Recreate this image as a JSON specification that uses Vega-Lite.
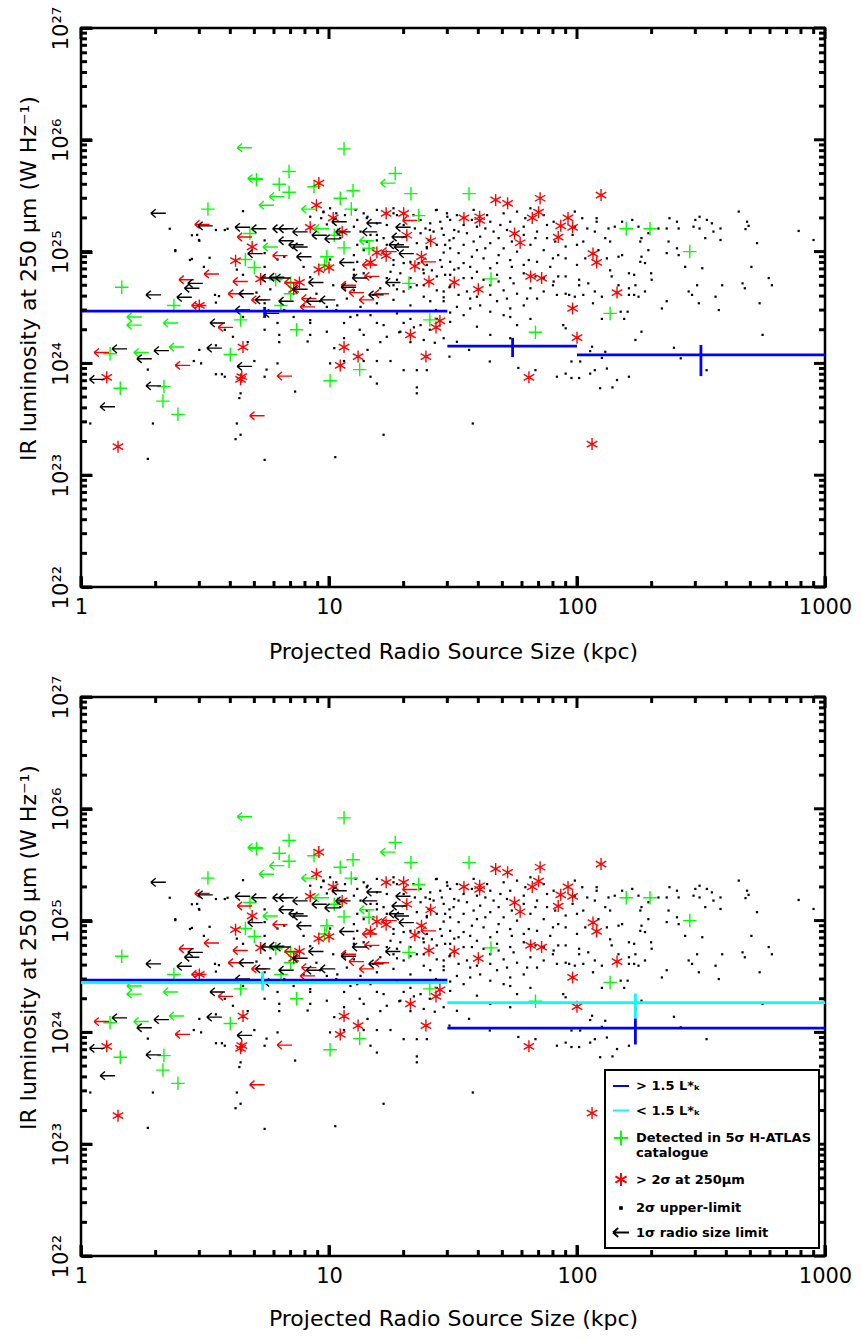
{
  "$schema": "https://vega.github.io/schema/vega-lite/v6.json",
  "background": "white",
  "padding": {"top": 4, "left": 15, "right": 30, "bottom": 2},
  "config": {
    "view": {"stroke": "black", "strokeWidth": 2.5},
    "font": "DejaVu Sans",
    "axis": {
      "grid": false, "domain": false, "ticks": true,
      "labelFont": "DejaVu Sans", "titleFont": "DejaVu Sans",
      "labelColor": "black", "titleColor": "black",
      "tickColor": "black", "tickWidth": 3,
      "labelFontSize": 21, "titleFontSize": 22, "titleFontWeight": "normal",
      "labelFlush": false, "labelOverlap": false
    },
    "legend": {"strokeWidth": 2}
  },
  "datasets": {
    "xmaj": [{"v":1},{"v":10},{"v":100},{"v":1000}],
    "xmin": [{"v":2},{"v":3},{"v":4},{"v":5},{"v":6},{"v":7},{"v":8},{"v":9},{"v":20},{"v":30},{"v":40},{"v":50},{"v":60},{"v":70},{"v":80},{"v":90},{"v":200},{"v":300},{"v":400},{"v":500},{"v":600},{"v":700},{"v":800},{"v":900}],
    "ymaj": [{"v":1e22},{"v":1e23},{"v":1e24},{"v":1e25},{"v":1e26},{"v":1e27}],
    "ymin": [{"v":2e22},{"v":3e22},{"v":4e22},{"v":5e22},{"v":6e22},{"v":7e22},{"v":8e22},{"v":9e22},{"v":2e23},{"v":3e23},{"v":4e23},{"v":5e23},{"v":6e23},{"v":7e23},{"v":8e23},{"v":9e23},{"v":2e24},{"v":3e24},{"v":4e24},{"v":5e24},{"v":6e24},{"v":7e24},{"v":8e24},{"v":9e24},{"v":2e25},{"v":3e25},{"v":4e25},{"v":5e25},{"v":6e25},{"v":7e25},{"v":8e25},{"v":9e25},{"v":2e26},{"v":3e26},{"v":4e26},{"v":5e26},{"v":6e26},{"v":7e26},{"v":8e26},{"v":9e26}],
    "dots": [
      {"s":9.5,"L":2.28e25},{"s":10.1,"L":2.44e25},{"s":12.8,"L":2.36e25},{"s":15.6,"L":2.36e25},{"s":18.2,"L":2.44e25},{"s":27.2,"L":2.36e25},{"s":29.9,"L":2.2e25},{"s":32.8,"L":2.12e25},{"s":38.3,"L":2.36e25},{"s":43.4,"L":2.12e25},{"s":50.6,"L":2.2e25},{"s":57.3,"L":2.28e25},{"s":64.9,"L":2.44e25},{"s":73.4,"L":2.12e25},{"s":80.5,"L":1.85e25},
      {"s":9.3,"L":1.99e25},{"s":13.0,"L":1.92e25},{"s":14.2,"L":1.99e25},{"s":15.6,"L":1.79e25},{"s":17.1,"L":1.73e25},{"s":23.4,"L":1.92e25},{"s":25.6,"L":1.79e25},{"s":28.1,"L":1.85e25},{"s":30.8,"L":1.92e25},{"s":34.9,"L":1.73e25},{"s":39.5,"L":1.67e25},{"s":44.7,"L":1.85e25},{"s":49.1,"L":1.73e25},{"s":53.8,"L":1.85e25},{"s":61.0,"L":1.67e25},{"s":75.7,"L":1.73e25},{"s":12.6,"L":1.67e25},{"s":9.8,"L":1.75e25},
      {"s":13.4,"L":1.51e25},{"s":14.7,"L":1.41e25},{"s":16.6,"L":1.32e25},{"s":23.4,"L":1.46e25},{"s":26.4,"L":1.51e25},{"s":29.0,"L":1.41e25},{"s":31.8,"L":1.32e25},{"s":36.0,"L":1.46e25},{"s":40.7,"L":1.36e25},{"s":46.1,"L":1.51e25},{"s":52.2,"L":1.56e25},{"s":61.0,"L":1.41e25},{"s":69.0,"L":1.51e25},{"s":75.7,"L":1.32e25},{"s":81.7,"L":1.23e25},{"s":38.3,"L":1.23e25},
      {"s":13.0,"L":1.15e25},{"s":15.1,"L":1.07e25},{"s":17.1,"L":1.15e25},{"s":22.6,"L":1.19e25},{"s":24.8,"L":1.07e25},{"s":27.2,"L":1.15e25},{"s":30.8,"L":1.07e25},{"s":34.9,"L":1.15e25},{"s":39.5,"L":1.03e25},{"s":44.7,"L":1.19e25},{"s":50.6,"L":1.07e25},{"s":57.3,"L":1.0e25},{"s":64.9,"L":1.15e25},{"s":73.4,"L":1.03e25},
      {"s":13.0,"L":8.1e24},{"s":18.2,"L":8.4e24},{"s":20.0,"L":7.9e24},{"s":24.8,"L":7.6e24},{"s":28.1,"L":8.4e24},{"s":30.8,"L":8.1e24},{"s":34.9,"L":7.9e24},{"s":37.1,"L":7.3e24},{"s":42.0,"L":8.7e24},{"s":47.6,"L":7.9e24},{"s":53.8,"L":8.4e24},{"s":61.0,"L":7.6e24},{"s":69.0,"L":8.1e24},{"s":78.0,"L":7.3e24},{"s":44.7,"L":7.1e24},
      {"s":12.6,"L":6.2e24},{"s":13.8,"L":6.4e24},{"s":17.7,"L":6.6e24},{"s":21.3,"L":5.8e24},{"s":24.1,"L":6.4e24},{"s":27.2,"L":6.0e24},{"s":30.8,"L":6.2e24},{"s":34.9,"L":5.8e24},{"s":39.5,"L":6.6e24},{"s":47.6,"L":6.2e24},{"s":53.8,"L":5.8e24},{"s":61.0,"L":6.4e24},{"s":73.4,"L":5.8e24},{"s":80.5,"L":5.4e24},{"s":18.8,"L":5.6e24},
      {"s":10.4,"L":5.0e24},{"s":12.6,"L":4.5e24},{"s":16.1,"L":4.7e24},{"s":18.2,"L":5.0e24},{"s":20.0,"L":4.4e24},{"s":22.6,"L":5.0e24},{"s":27.2,"L":4.5e24},{"s":30.8,"L":4.9e24},{"s":36.0,"L":4.4e24},{"s":44.7,"L":5.0e24},{"s":50.6,"L":4.5e24},{"s":57.3,"L":4.2e24},{"s":64.9,"L":4.7e24},{"s":73.4,"L":4.4e24},
      {"s":9.2,"L":3.6e24},{"s":10.8,"L":3.3e24},{"s":11.8,"L":3.8e24},{"s":13.4,"L":3.2e24},{"s":15.6,"L":3.45e24},{"s":18.2,"L":3.7e24},{"s":21.3,"L":3.3e24},{"s":24.1,"L":3.95e24},{"s":29.0,"L":3.6e24},{"s":32.8,"L":3.2e24},{"s":37.1,"L":3.8e24},{"s":40.7,"L":3.3e24},{"s":47.6,"L":3.6e24},{"s":53.8,"L":3.1e24},{"s":61.0,"L":3.3e24},{"s":69.0,"L":3.8e24},
      {"s":8.4,"L":2.44e24},{"s":11.5,"L":2.3e24},{"s":13.0,"L":2.7e24},{"s":14.7,"L":2.7e24},{"s":16.6,"L":2.2e24},{"s":18.8,"L":2.8e24},{"s":21.3,"L":2.5e24},{"s":23.4,"L":2.2e24},{"s":30.8,"L":2.35e24},{"s":34.9,"L":2.7e24},{"s":39.5,"L":2.13e24},{"s":50.6,"L":2.7e24},{"s":57.3,"L":2.2e24},{"s":64.9,"L":2.5e24},
      {"s":9.8,"L":1.92e24},{"s":11.5,"L":1.68e24},{"s":13.8,"L":1.8e24},{"s":17.1,"L":1.73e24},{"s":19.4,"L":1.92e24},{"s":24.1,"L":1.62e24},{"s":29.0,"L":1.68e24},{"s":32.8,"L":1.56e24},{"s":44.7,"L":1.8e24},{"s":53.8,"L":1.68e24},
      {"s":21.9,"L":2.12e25},{"s":24.5,"L":1.61e25},{"s":28.5,"L":1.61e25},{"s":33.3,"L":1.51e25},{"s":37.7,"L":1.92e25},{"s":42.7,"L":1.61e25},{"s":48.3,"L":1.32e25},{"s":54.6,"L":1.23e25},{"s":61.9,"L":1.99e25},{"s":68.0,"L":1.32e25},{"s":25.2,"L":1.27e25},{"s":29.4,"L":1.15e25},{"s":33.3,"L":9.7e24},{"s":37.7,"L":9.0e24},{"s":42.7,"L":1.07e25},{"s":48.3,"L":9.3e24},{"s":54.6,"L":7.3e24},{"s":63.9,"L":8.4e24},{"s":23.0,"L":7.9e24},{"s":26.0,"L":6.8e24},{"s":29.4,"L":6.2e24},{"s":33.3,"L":7.1e24},{"s":37.7,"L":5.8e24},{"s":42.0,"L":5.6e24},{"s":48.3,"L":5.4e24},{"s":55.5,"L":5.2e24},{"s":68.0,"L":6.0e24},{"s":24.1,"L":5.0e24},{"s":29.0,"L":4.4e24},{"s":33.3,"L":4.1e24},{"s":39.5,"L":3.95e24},{"s":44.7,"L":4.1e24},{"s":52.2,"L":3.8e24},{"s":62.9,"L":3.8e24},{"s":25.6,"L":3.6e24},{"s":30.8,"L":2.85e24},{"s":37.1,"L":3.1e24},{"s":44.7,"L":2.9e24},{"s":53.8,"L":2.6e24},{"s":27.2,"L":2.5e24},{"s":18.2,"L":7.6e24},{"s":17.1,"L":5.8e24},{"s":15.1,"L":4.1e24},{"s":19.4,"L":6.4e24},{"s":21.3,"L":8.1e24},{"s":14.2,"L":1.23e25},{"s":15.6,"L":1.41e25},{"s":20.0,"L":1.73e25},{"s":22.2,"L":1.61e25},{"s":18.8,"L":2.12e25},{"s":13.8,"L":2.2e25},{"s":11.6,"L":2.12e25},{"s":11.1,"L":1.32e25},{"s":12.6,"L":9.3e24},
      {"s":2.28,"L":1.6e25},{"s":3.5,"L":1.56e25},{"s":3.8,"L":1.56e25},{"s":4.5,"L":2.3e25},{"s":2.8,"L":1.4e25},{"s":3.0,"L":1.25e25},{"s":2.4,"L":1.03e25},{"s":2.8,"L":8.6e24},{"s":4.25,"L":6.9e24},{"s":4.5,"L":6.2e24},{"s":5.5,"L":7.3e24},{"s":6.2,"L":8.5e24},{"s":7.9,"L":7.3e24},{"s":5.5,"L":1.26e25},{"s":6.6,"L":9e24},{"s":8.4,"L":5.9e24},{"s":8.9,"L":4.2e24},{"s":5.8,"L":4.6e24},{"s":3.6,"L":4e24},{"s":3.5,"L":3.5e24},{"s":5.5,"L":3.45e24},{"s":7.9,"L":3.3e24},{"s":9.8,"L":3.2e24},{"s":10.7,"L":3e24},{"s":6.6,"L":3e24},{"s":7.2,"L":2.6e24},{"s":5.5,"L":2e24},{"s":6.3,"L":1.8e24},{"s":8.4,"L":1.8e24},{"s":8.2,"L":1.57e24},{"s":6.3,"L":1.55e24},{"s":4.1,"L":1.73e24},{"s":10.5,"L":1.37e24},{"s":11.5,"L":1.05e24},{"s":10.1,"L":1e24},{"s":13.8,"L":1.05e24},{"s":15.6,"L":1.05e24},{"s":14.7,"L":7.6e23},{"s":15.6,"L":6.6e23},{"s":20,"L":8.7e23},{"s":22.6,"L":8.7e23},{"s":22.6,"L":6.1e23},{"s":22,"L":2.1e24},{"s":21.3,"L":1.55e24},{"s":19.2,"L":1.9e24},{"s":26.7,"L":1.53e24},{"s":25.5,"L":2e24},{"s":3.0,"L":1.32e24},{"s":2.85,"L":1.05e24},{"s":3.05,"L":1e24},{"s":3.5,"L":1.45e24},{"s":1.86,"L":8.8e23},{"s":3.5,"L":8e23},{"s":3.7,"L":8e23},{"s":3.8,"L":7.6e23},{"s":4.4,"L":5.4e23},{"s":4.35,"L":4.9e23},{"s":1.95,"L":2.9e23},{"s":1.09,"L":2.9e23},{"s":4.25,"L":2.9e23},{"s":4.4,"L":2.3e23},{"s":4.2,"L":2.1e23},{"s":1.86,"L":1.4e23},{"s":10.6,"L":1.45e23},{"s":16.6,"L":2.3e23},{"s":7.3,"L":5.6e23},{"s":5.5,"L":7.6e23},{"s":5.6,"L":8.8e23},{"s":5.0,"L":1.05e24},{"s":6.2,"L":1e24},{"s":4.7,"L":1.55e24},{"s":3.8,"L":2e24},{"s":27,"L":3e24},{"s":29,"L":3.9e24},{"s":30.6,"L":4.8e24},{"s":32,"L":6.9e24},{"s":24,"L":6.9e24},{"s":21.3,"L":4.8e24},{"s":18.8,"L":4.6e24},{"s":14.7,"L":5.9e24},{"s":12.6,"L":6.9e24},{"s":10.1,"L":8.5e24},{"s":13.8,"L":1.03e25},{"s":15.6,"L":1.26e25},{"s":18.2,"L":2.2e25},{"s":14.3,"L":2.05e25},{"s":10.7,"L":2.2e25},{"s":9.5,"L":2.25e25},{"s":8.4,"L":2.05e25},{"s":27,"L":2.35e25},{"s":30,"L":2.05e25},{"s":32,"L":1.56e25},{"s":30.6,"L":1.26e25},{"s":29,"L":9.8e24},{"s":25.5,"L":1.56e25},{"s":24.8,"L":1.1e25},{"s":28.5,"L":7.3e24},{"s":4.5,"L":2.6e24},{"s":6.2,"L":2.3e24},{"s":8.4,"L":2.3e24},{"s":12.2,"L":2.6e24},{"s":15.6,"L":2.3e24},{"s":20,"L":2.3e24},{"s":13.3,"L":2e24},{"s":16.1,"L":1.55e24},{"s":14.3,"L":1.32e24},{"s":17.7,"L":1.05e24},{"s":24.8,"L":8.7e23},{"s":22.6,"L":5.4e23},
      {"s":98,"L":2.28e25},{"s":105,"L":1.99e25},{"s":120,"L":1.99e25},{"s":120,"L":1.85e25},{"s":110,"L":1.61e25},{"s":98,"L":1.67e25},{"s":96,"L":1.41e25},{"s":106,"L":1.23e25},{"s":100,"L":1.15e25},{"s":90,"L":1.11e25},{"s":84,"L":9.3e24},{"s":90,"L":8.7e24},{"s":80,"L":8.7e24},{"s":118,"L":1.51e25},{"s":130,"L":1.32e25},{"s":134,"L":1.61e25},{"s":136,"L":1.23e25},{"s":142,"L":1.67e25},{"s":152,"L":1.85e25},{"s":167,"L":1.92e25},{"s":152,"L":9.3e24},{"s":147,"L":9.0e24},{"s":132,"L":8.7e24},{"s":122,"L":1.03e25},{"s":108,"L":8.7e24},{"s":100,"L":7.6e24},{"s":84,"L":6.0e24},{"s":90,"L":6.0e24},{"s":102,"L":5.6e24},{"s":111,"L":5.2e24},{"s":102,"L":5.0e24},{"s":80,"L":5.0e24},{"s":90,"L":4.2e24},{"s":93,"L":4.1e24},{"s":83,"L":4.1e24},{"s":98,"L":3.95e24},{"s":106,"L":4.1e24},{"s":116,"L":3.45e24},{"s":118,"L":4.4e24},{"s":126,"L":3.95e24},{"s":138,"L":6.0e24},{"s":136,"L":6.8e24},{"s":162,"L":6.4e24},{"s":170,"L":6.2e24},{"s":147,"L":5.0e24},{"s":162,"L":4.7e24},{"s":172,"L":5.0e24},{"s":177,"L":3.95e24},{"s":188,"L":4.4e24},{"s":162,"L":4.1e24},{"s":170,"L":4.1e24},{"s":200,"L":5.6e24},{"s":199,"L":6.4e24},{"s":188,"L":7.9e24},{"s":180,"L":8.1e24},{"s":182,"L":9.0e24},{"s":194,"L":1.03e25},{"s":180,"L":1.23e25},{"s":182,"L":1.32e25},{"s":194,"L":1.46e25},{"s":177,"L":1.67e25},{"s":213,"L":1.61e25},{"s":230,"L":1.61e25},{"s":236,"L":1.99e25},{"s":253,"L":1.85e25},{"s":257,"L":1.61e25},{"s":230,"L":9.7e24},{"s":234,"L":1.23e25},{"s":253,"L":1.07e25},{"s":257,"L":9.3e24},{"s":273,"L":7.3e24},{"s":300,"L":1.92e25},{"s":312,"L":2.05e25},{"s":334,"L":1.92e25},{"s":350,"L":1.79e25},{"s":379,"L":1.61e25},{"s":355,"L":1.51e25},{"s":312,"L":1.61e25},{"s":295,"L":1.67e25},{"s":379,"L":1.27e25},{"s":329,"L":1.32e25},{"s":320,"L":7.1e24},{"s":305,"L":5.0e24},{"s":282,"L":4.4e24},{"s":291,"L":4.1e24},{"s":362,"L":3.95e24},{"s":385,"L":5.0e24},{"s":373,"L":3.0e24},{"s":310,"L":3.45e24},{"s":230,"L":3.6e24},{"s":220,"L":3.1e24},{"s":160,"L":2.9e24},{"s":150,"L":2.9e24},{"s":155,"L":2.5e24},{"s":126,"L":2.5e24},{"s":465,"L":5.2e24},{"s":475,"L":4.7e24},{"s":505,"L":7.3e24},{"s":532,"L":1.19e25},{"s":485,"L":1.85e25},{"s":492,"L":1.7e25},{"s":478,"L":1.59e25},{"s":449,"L":2.28e25},{"s":593,"L":5.8e24},{"s":611,"L":5.0e24},{"s":545,"L":3.45e24},{"s":560,"L":1.8e24},{"s":783,"L":1.53e25},{"s":899,"L":1.27e25},{"s":182,"L":1.92e24},{"s":172,"L":1.62e24},{"s":90,"L":2.06e24},{"s":88,"L":2.2e24},{"s":115,"L":1.41e24},{"s":113,"L":1.29e24},{"s":130,"L":1.27e24},{"s":126,"L":1.12e24},{"s":246,"L":1.38e24},{"s":262,"L":1.11e24},{"s":333,"L":8.7e23},{"s":162,"L":7.6e23},{"s":145,"L":7.1e23},{"s":132,"L":9.0e23},{"s":118,"L":8.7e23},{"s":113,"L":8.1e23},{"s":103,"L":1.04e24},{"s":95,"L":1.04e24},{"s":90,"L":8.1e23},{"s":83,"L":7.6e23},{"s":95,"L":7.4e23},{"s":102,"L":7.4e23},
      {"s":30.6,"L":1.15e24},{"s":36.7,"L":1.32e24},{"s":44.5,"L":1.04e24},{"s":58,"L":9.1e23},{"s":68,"L":8.7e23},{"s":38,"L":2.9e23},{"s":124,"L":6e23},{"s":139,"L":6.1e23},
      {"s":2.94,"L":1.41e25},{"s":2.99,"L":1.27e25},{"s":2.4,"L":1.01e25},{"s":3.9,"L":1.6e25},{"s":2.75,"L":8.4e24},{"s":3.3,"L":8.8e24},{"s":3.13,"L":7.3e24},{"s":5.5,"L":9.7e24},{"s":5.1,"L":4.3e24},{"s":3.47,"L":4.1e24},{"s":5.5,"L":1.37e23}
    ],
    "marks": [
      {"s":11.5,"L":8.3e25,"c":"det","m":"det"},{"s":6.9,"L":5.2e25,"c":"det","m":"det"},{"s":6.3,"L":4e25,"c":"det","m":"det"},{"s":8.7,"L":3.8e25,"c":"det","m":"det"},{"s":6.9,"L":3.4e25,"c":"det","m":"det"},{"s":12.5,"L":3.5e25,"c":"det","m":"det"},{"s":21.4,"L":3.3e25,"c":"det","m":"det"},{"s":11.1,"L":3.0e25,"c":"det","m":"det"},{"s":3.25,"L":2.4e25,"c":"det","m":"det"},{"s":12.3,"L":2.4e25,"c":"det","m":"det"},{"s":23,"L":2.1e25,"c":"det","m":"det"},{"s":4.8,"L":1.45e25,"c":"det","m":"det"},{"s":10.5,"L":1.4e25,"c":"det","m":"det"},{"s":11.5,"L":1.08e25,"c":"det","m":"det"},{"s":4.6,"L":8.5e24,"c":"det","m":"det"},{"s":9.8,"L":9e24,"c":"det","m":"det"},{"s":5.0,"L":7.2e24,"c":"det","m":"det"},{"s":9.6,"L":7.6e24,"c":"det","m":"det"},{"s":6.1,"L":5.6e24,"c":"det","m":"det"},{"s":7.0,"L":5.2e24,"c":"det","m":"det"},{"s":7.0,"L":4.2e24,"c":"det","m":"det"},{"s":21,"L":5.2e24,"c":"det","m":"det"},{"s":1.46,"L":4.8e24,"c":"det","m":"det"},{"s":2.37,"L":3.3e24,"c":"det","m":"det"},{"s":6.4,"L":3.3e24,"c":"det","m":"det"},{"s":4.4,"L":2.45e24,"c":"det","m":"det"},{"s":7.4,"L":2e24,"c":"det","m":"det"},{"s":25.5,"L":2.45e24,"c":"det","m":"det"},{"s":1.31,"L":1.22e24,"c":"det","m":"det"},{"s":4.0,"L":1.2e24,"c":"det","m":"det"},{"s":13.3,"L":8.8e23,"c":"det","m":"det"},{"s":10.1,"L":7e23,"c":"det","m":"det"},{"s":2.16,"L":6.2e23,"c":"det","m":"det"},{"s":1.44,"L":6e23,"c":"det","m":"det"},{"s":2.14,"L":4.6e23,"c":"det","m":"det"},{"s":2.46,"L":3.5e23,"c":"det","m":"det"},{"s":18.5,"L":5e25,"c":"det","m":"det"},{"s":5.1,"L":4.4e25,"c":"det","m":"det"},{"s":36.7,"L":3.3e25,"c":"det","m":"det"},{"s":45,"L":5.7e24,"c":"det","m":"det"},{"s":158,"L":1.6e25,"c":"det","m":"det"},{"s":197,"L":1.6e25,"c":"det","m":"det"},{"s":285,"L":1e25,"c":"det","m":"det"},{"s":136,"L":2.8e24,"c":"det","m":"det"},{"s":68,"L":1.9e24,"c":"det","m":"det"},{"s":14.5,"L":1.07e25,"c":"det","m":"det"},
      {"s":9.1,"L":4.1e25,"c":"sig","m":"sig"},{"s":8.9,"L":2.6e25,"c":"sig","m":"sig"},{"s":17,"L":2.2e25,"c":"sig","m":"sig"},{"s":20,"L":2.2e25,"c":"sig","m":"sig"},{"s":10.4,"L":2e25,"c":"sig","m":"sig"},{"s":8.4,"L":1.65e25,"c":"sig","m":"sig"},{"s":11.3,"L":1.5e25,"c":"sig","m":"sig"},{"s":20.6,"L":1.4e25,"c":"sig","m":"sig"},{"s":25.7,"L":1.25e25,"c":"sig","m":"sig"},{"s":4.9,"L":1.1e25,"c":"sig","m":"sig"},{"s":15.6,"L":9.8e24,"c":"sig","m":"sig"},{"s":4.2,"L":8.3e24,"c":"sig","m":"sig"},{"s":17,"L":9.2e24,"c":"sig","m":"sig"},{"s":23.6,"L":9e24,"c":"sig","m":"sig"},{"s":14.7,"L":8e24,"c":"sig","m":"sig"},{"s":22.2,"L":7.4e24,"c":"sig","m":"sig"},{"s":9.1,"L":6.9e24,"c":"sig","m":"sig"},{"s":10,"L":7.2e24,"c":"sig","m":"sig"},{"s":5.3,"L":5.7e24,"c":"sig","m":"sig"},{"s":7.6,"L":5.3e24,"c":"sig","m":"sig"},{"s":7.2,"L":4.6e24,"c":"sig","m":"sig"},{"s":25.3,"L":5.4e24,"c":"sig","m":"sig"},{"s":32,"L":5.3e24,"c":"sig","m":"sig"},{"s":3.0,"L":3.3e24,"c":"sig","m":"sig"},{"s":4.5,"L":1.4e24,"c":"sig","m":"sig"},{"s":11.5,"L":1.4e24,"c":"sig","m":"sig"},{"s":13.1,"L":1.15e24,"c":"sig","m":"sig"},{"s":24.6,"L":1.15e24,"c":"sig","m":"sig"},{"s":21.3,"L":1.8e24,"c":"sig","m":"sig"},{"s":11.1,"L":9.6e23,"c":"sig","m":"sig"},{"s":1.27,"L":7.5e23,"c":"sig","m":"sig"},{"s":4.4,"L":7.2e23,"c":"sig","m":"sig"},{"s":4.45,"L":7.6e23,"c":"sig","m":"sig"},{"s":1.41,"L":1.8e23,"c":"sig","m":"sig"},{"s":28,"L":2.4e24,"c":"sig","m":"sig"},{"s":27,"L":2.1e24,"c":"sig","m":"sig"},
      {"s":47,"L":2.9e25,"c":"sig","m":"sig"},{"s":52.5,"L":2.7e25,"c":"sig","m":"sig"},{"s":71,"L":3e25,"c":"sig","m":"sig"},{"s":125,"L":3.2e25,"c":"sig","m":"sig"},{"s":35,"L":2e25,"c":"sig","m":"sig"},{"s":40.5,"L":2.05e25,"c":"sig","m":"sig"},{"s":40.5,"L":1.9e25,"c":"sig","m":"sig"},{"s":70,"L":2.25e25,"c":"sig","m":"sig"},{"s":66,"L":2e25,"c":"sig","m":"sig"},{"s":92,"L":2e25,"c":"sig","m":"sig"},{"s":86,"L":1.7e25,"c":"sig","m":"sig"},{"s":96,"L":1.65e25,"c":"sig","m":"sig"},{"s":56,"L":1.45e25,"c":"sig","m":"sig"},{"s":59,"L":1.2e25,"c":"sig","m":"sig"},{"s":84,"L":1.35e25,"c":"sig","m":"sig"},{"s":116,"L":9.6e24,"c":"sig","m":"sig"},{"s":120,"L":8e24,"c":"sig","m":"sig"},{"s":65,"L":6e24,"c":"sig","m":"sig"},{"s":72,"L":5.8e24,"c":"sig","m":"sig"},{"s":40,"L":4.6e24,"c":"sig","m":"sig"},{"s":145,"L":4.3e24,"c":"sig","m":"sig"},{"s":96,"L":3.1e24,"c":"sig","m":"sig"},{"s":100,"L":1.7e24,"c":"sig","m":"sig"},{"s":64,"L":7.5e23,"c":"sig","m":"sig"},{"s":115,"L":1.9e23,"c":"sig","m":"sig"},
      {"s":4.57,"L":8.5e25,"c":"det","m":"arr"},{"s":5.04,"L":4.5e25,"c":"det","m":"arr"},{"s":17.3,"L":4.1e25,"c":"det","m":"arr"},{"s":6.16,"L":3.1e25,"c":"det","m":"arr"},{"s":5.6,"L":2.6e25,"c":"det","m":"arr"},{"s":8.3,"L":2.4e25,"c":"det","m":"arr"},{"s":9.33,"L":1.6e25,"c":"det","m":"arr"},{"s":14.2,"L":1.25e25,"c":"det","m":"arr"},{"s":5.8,"L":1.1e25,"c":"det","m":"arr"},{"s":1.64,"L":2.6e24,"c":"det","m":"arr"},{"s":1.64,"L":2.2e24,"c":"det","m":"arr"},{"s":2.3,"L":2.3e24,"c":"det","m":"arr"},{"s":1.75,"L":1.25e24,"c":"det","m":"arr"},{"s":2.43,"L":1.4e24,"c":"det","m":"arr"},
      {"s":21.2,"L":1.9e25,"c":"sig","m":"arr"},{"s":3.08,"L":1.75e25,"c":"sig","m":"arr"},{"s":4.57,"L":1.35e25,"c":"sig","m":"arr"},{"s":6.35,"L":9.2e24,"c":"sig","m":"arr"},{"s":17.5,"L":1e25,"c":"sig","m":"arr"},{"s":25.2,"L":8.1e24,"c":"sig","m":"arr"},{"s":14.6,"L":7.6e24,"c":"sig","m":"arr"},{"s":14.9,"L":6e24,"c":"sig","m":"arr"},{"s":3.36,"L":6.3e24,"c":"sig","m":"arr"},{"s":2.66,"L":5.6e24,"c":"sig","m":"arr"},{"s":4.39,"L":5.4e24,"c":"sig","m":"arr"},{"s":7.09,"L":5.3e24,"c":"sig","m":"arr"},{"s":12.0,"L":5e24,"c":"sig","m":"arr"},{"s":12.9,"L":4.3e24,"c":"sig","m":"arr"},{"s":4.2,"L":4.2e24,"c":"sig","m":"arr"},{"s":5.22,"L":3.7e24,"c":"sig","m":"arr"},{"s":8.3,"L":3.8e24,"c":"sig","m":"arr"},{"s":16.3,"L":4.2e24,"c":"sig","m":"arr"},{"s":14.2,"L":3.7e24,"c":"sig","m":"arr"},{"s":2.99,"L":3.3e24,"c":"sig","m":"arr"},{"s":8.2,"L":3.2e24,"c":"sig","m":"arr"},{"s":3.83,"L":2.1e24,"c":"sig","m":"arr"},{"s":1.21,"L":1.25e24,"c":"sig","m":"arr"},{"s":2.57,"L":9.6e23,"c":"sig","m":"arr"},{"s":6.62,"L":7.7e23,"c":"sig","m":"arr"},{"s":5.13,"L":3.4e23,"c":"sig","m":"arr"},
      {"s":2.05,"L":2.2e25,"c":"ul","m":"arr"},{"s":3.17,"L":1.7e25,"c":"ul","m":"arr"},{"s":4.48,"L":1.65e25,"c":"ul","m":"arr"},{"s":5.22,"L":1.6e25,"c":"ul","m":"arr"},{"s":6.35,"L":1.6e25,"c":"ul","m":"arr"},{"s":6.72,"L":1.6e25,"c":"ul","m":"arr"},{"s":7.65,"L":1.5e25,"c":"ul","m":"arr"},{"s":11.4,"L":1.5e25,"c":"ul","m":"arr"},{"s":11.0,"L":1.85e25,"c":"ul","m":"arr"},{"s":15.2,"L":1.8e25,"c":"ul","m":"arr"},{"s":19.9,"L":1.65e25,"c":"ul","m":"arr"},{"s":14.6,"L":1.5e25,"c":"ul","m":"arr"},{"s":9.14,"L":1.4e25,"c":"ul","m":"arr"},{"s":10.3,"L":1.3e25,"c":"ul","m":"arr"},{"s":19.2,"L":1.35e25,"c":"ul","m":"arr"},{"s":6.72,"L":1.25e25,"c":"ul","m":"arr"},{"s":7.37,"L":1.15e25,"c":"ul","m":"arr"},{"s":7.65,"L":1.1e25,"c":"ul","m":"arr"},{"s":19.6,"L":1.1e25,"c":"ul","m":"arr"},{"s":5.04,"L":9.6e24,"c":"ul","m":"arr"},{"s":7.93,"L":9e24,"c":"ul","m":"arr"},{"s":20.5,"L":9.6e24,"c":"ul","m":"arr"},{"s":11.8,"L":8e24,"c":"ul","m":"arr"},{"s":13.3,"L":5.8e24,"c":"ul","m":"arr"},{"s":2.89,"L":5.2e24,"c":"ul","m":"arr"},{"s":5.69,"L":5.8e24,"c":"ul","m":"arr"},{"s":6.16,"L":5.9e24,"c":"ul","m":"arr"},{"s":6.53,"L":5.8e24,"c":"ul","m":"arr"},{"s":8.86,"L":5.3e24,"c":"ul","m":"arr"},{"s":18.1,"L":5.3e24,"c":"ul","m":"arr"},{"s":2.8,"L":4.7e24,"c":"ul","m":"arr"},{"s":12.0,"L":4.8e24,"c":"ul","m":"arr"},{"s":7.65,"L":4.6e24,"c":"ul","m":"arr"},{"s":1.96,"L":4.1e24,"c":"ul","m":"arr"},{"s":2.61,"L":3.9e24,"c":"ul","m":"arr"},{"s":4.64,"L":4.2e24,"c":"ul","m":"arr"},{"s":5.41,"L":3.7e24,"c":"ul","m":"arr"},{"s":6.72,"L":3.6e24,"c":"ul","m":"arr"},{"s":8.68,"L":3.6e24,"c":"ul","m":"arr"},{"s":9.89,"L":3.7e24,"c":"ul","m":"arr"},{"s":15.5,"L":4.1e24,"c":"ul","m":"arr"},{"s":4.48,"L":3e24,"c":"ul","m":"arr"},{"s":5.88,"L":2.8e24,"c":"ul","m":"arr"},{"s":3.55,"L":2.3e24,"c":"ul","m":"arr"},{"s":1.43,"L":1.35e24,"c":"ul","m":"arr"},{"s":1.8,"L":1.1e24,"c":"ul","m":"arr"},{"s":2.11,"L":1.3e24,"c":"ul","m":"arr"},{"s":3.45,"L":1.37e24,"c":"ul","m":"arr"},{"s":4.57,"L":9.4e23,"c":"ul","m":"arr"},{"s":1.16,"L":7.2e23,"c":"ul","m":"arr"},{"s":1.96,"L":6.3e23,"c":"ul","m":"arr"},{"s":1.28,"L":4.1e23,"c":"ul","m":"arr"},{"s":18.7,"L":1.15e25,"c":"ul","m":"arr"}
    ],
    "bins": [
      {"p":"top","c":"hi","x1":1,"x2":30,"L":2.94e24,"mid":5.5,"Llo":2.55e24,"Lhi":3.2e24},
      {"p":"top","c":"hi","x1":30,"x2":100,"L":1.43e24,"mid":55,"Llo":1.14e24,"Lhi":1.69e24},
      {"p":"top","c":"hi","x1":100,"x2":1000,"L":1.19e24,"mid":316,"Llo":7.7e23,"Lhi":1.46e24},
      {"p":"bot","c":"hi","x1":1,"x2":30,"L":2.93e24,"mid":5.4,"Llo":2.7e24,"Lhi":3.15e24},
      {"p":"bot","c":"lo","x1":1,"x2":30,"L":2.79e24,"mid":5.4,"Llo":2.37e24,"Lhi":3.5e24},
      {"p":"bot","c":"lo","x1":30,"x2":1000,"L":1.85e24,"mid":172,"Llo":1.33e24,"Lhi":2.23e24},
      {"p":"bot","c":"hi","x1":30,"x2":1000,"L":1.09e24,"mid":172,"Llo":7.8e23,"Lhi":1.33e24}
    ]
  },
  "spacing": 9,
  "resolve": {"scale": {"color": "independent", "shape": "independent"}},
  "vconcat": [
    {
      "width": 744, "height": 559,
      "resolve": {"scale": {"x": "independent", "y": "independent"}},
      "layer": [
        {
          "data": {"name": "dots"},
          "mark": {"type": "point", "shape": "square", "filled": true, "size": 5, "color": "black", "opacity": 1},
          "encoding": {
            "x": {"field": "s", "type": "quantitative", "scale": {"type": "log", "domain": [1, 1000], "nice": false},
                  "axis": {"orient": "bottom", "values": [1, 10, 100, 1000], "offset": -11, "tickSize": 11, "labelExpr": "'' + datum.value", "labelPadding": 9, "title": "Projected Radio Source Size (kpc)", "titlePadding": 24}},
            "y": {"field": "L", "type": "quantitative", "scale": {"type": "log", "domain": [1e22, 1e27], "nice": false},
                  "axis": {"orient": "left", "values": [1e22, 1e23, 1e24, 1e25, 1e26, 1e27], "offset": -11, "tickSize": 11, "labelAngle": -90, "labelAlign": "center", "labelBaseline": "bottom", "labelPadding": 10,
                           "labelExpr": "datum.value == 1e22 ? '10²²' : datum.value == 1e23 ? '10²³' : datum.value == 1e24 ? '10²⁴' : datum.value == 1e25 ? '10²⁵' : datum.value == 1e26 ? '10²⁶' : '10²⁷'",
                           "title": "IR luminosity at 250 μm (W Hz⁻¹)", "titlePadding": 10, "titleY": 250}}
          }
        },
        {
          "data": {"name": "marks"},
          "mark": {"type": "point", "filled": false, "strokeWidth": 1.4, "size": 225, "opacity": 1},
          "encoding": {
            "x": {"field": "s", "type": "quantitative", "scale": {"type": "log", "domain": [1, 1000], "nice": false}, "axis": null},
            "y": {"field": "L", "type": "quantitative", "scale": {"type": "log", "domain": [1e22, 1e27], "nice": false}, "axis": null},
            "color": {"field": "c", "type": "nominal", "legend": null,
                      "scale": {"domain": ["hi", "lo", "det", "sig", "ul", "arr"], "range": ["#0000ff", "#00ffff", "#00ff00", "#ff0000", "#000000", "#000000"]}},
            "shape": {"field": "m", "type": "nominal", "legend": null,
                      "scale": {"domain": ["hi", "lo", "det", "sig", "ul", "arr"], "range": ["M-1,0L1,0", "M-1,0L1,0", "M-0.9,0L0.9,0M0,-0.9L0,0.9", "M0,-0.8L0,0.8M-0.7,-0.4L0.7,0.4M-0.7,0.4L0.7,-0.4", "M-0.1,-0.1L0.1,-0.1L0.1,0.1L-0.1,0.1Z", "M1,0L-1,0M-1,0L-0.35,-0.55M-1,0L-0.35,0.55"]}}
          }
        },
        {
          "data": {"name": "bins"},
          "transform": [{"filter": "datum.p == 'top'"}],
          "mark": {"type": "rule", "strokeWidth": 2.8},
          "encoding": {
            "x": {"field": "x1", "type": "quantitative", "scale": {"type": "log", "domain": [1, 1000], "nice": false}, "axis": null},
            "x2": {"field": "x2"},
            "y": {"field": "L", "type": "quantitative", "scale": {"type": "log", "domain": [1e22, 1e27], "nice": false}, "axis": null},
            "color": {"field": "c", "type": "nominal", "legend": null,
                      "scale": {"domain": ["hi", "lo", "det", "sig", "ul", "arr"], "range": ["#0000ff", "#00ffff", "#00ff00", "#ff0000", "#000000", "#000000"]}}
          }
        },
        {
          "data": {"name": "bins"},
          "transform": [{"filter": "datum.p == 'top'"}],
          "mark": {"type": "rule", "strokeWidth": 2.8},
          "encoding": {
            "x": {"field": "mid", "type": "quantitative", "scale": {"type": "log", "domain": [1, 1000], "nice": false}, "axis": null},
            "y": {"field": "Llo", "type": "quantitative", "scale": {"type": "log", "domain": [1e22, 1e27], "nice": false}, "axis": null},
            "y2": {"field": "Lhi"},
            "color": {"field": "c", "type": "nominal", "legend": null,
                      "scale": {"domain": ["hi", "lo", "det", "sig", "ul", "arr"], "range": ["#0000ff", "#00ffff", "#00ff00", "#ff0000", "#000000", "#000000"]}}
          }
        },
        {"data": {"name": "xmaj"}, "mark": {"type": "rule", "strokeWidth": 3, "color": "black", "opacity": 1},
         "encoding": {"x": {"field": "v", "type": "quantitative", "scale": {"type": "log", "domain": [1, 1000], "nice": false}, "axis": null}, "y": {"datum": 1e22, "type": "quantitative", "scale": {"type": "log", "domain": [1e22, 1e27], "nice": false}, "axis": null}, "y2": {"datum": 1.254e22}}},
        {"data": {"name": "xmaj"}, "mark": {"type": "rule", "strokeWidth": 3, "color": "black", "opacity": 1},
         "encoding": {"x": {"field": "v", "type": "quantitative", "scale": {"type": "log", "domain": [1, 1000], "nice": false}, "axis": null}, "y": {"datum": 1e27, "type": "quantitative", "scale": {"type": "log", "domain": [1e22, 1e27], "nice": false}, "axis": null}, "y2": {"datum": 7.97e26}}},
        {"data": {"name": "xmin"}, "mark": {"type": "rule", "strokeWidth": 3, "color": "black", "opacity": 1},
         "encoding": {"x": {"field": "v", "type": "quantitative", "scale": {"type": "log", "domain": [1, 1000], "nice": false}, "axis": null}, "y": {"datum": 1e22, "type": "quantitative", "scale": {"type": "log", "domain": [1e22, 1e27], "nice": false}, "axis": null}, "y2": {"datum": 1.131e22}}},
        {"data": {"name": "xmin"}, "mark": {"type": "rule", "strokeWidth": 3, "color": "black", "opacity": 1},
         "encoding": {"x": {"field": "v", "type": "quantitative", "scale": {"type": "log", "domain": [1, 1000], "nice": false}, "axis": null}, "y": {"datum": 1e27, "type": "quantitative", "scale": {"type": "log", "domain": [1e22, 1e27], "nice": false}, "axis": null}, "y2": {"datum": 8.84e26}}},
        {"data": {"name": "ymaj"}, "mark": {"type": "rule", "strokeWidth": 3, "color": "black", "opacity": 1},
         "encoding": {"y": {"field": "v", "type": "quantitative", "scale": {"type": "log", "domain": [1e22, 1e27], "nice": false}, "axis": null}, "x": {"datum": 1, "type": "quantitative", "scale": {"type": "log", "domain": [1, 1000], "nice": false}, "axis": null}, "x2": {"datum": 1.107}}},
        {"data": {"name": "ymaj"}, "mark": {"type": "rule", "strokeWidth": 3, "color": "black", "opacity": 1},
         "encoding": {"y": {"field": "v", "type": "quantitative", "scale": {"type": "log", "domain": [1e22, 1e27], "nice": false}, "axis": null}, "x": {"datum": 1000, "type": "quantitative", "scale": {"type": "log", "domain": [1, 1000], "nice": false}, "axis": null}, "x2": {"datum": 903}}},
        {"data": {"name": "ymin"}, "mark": {"type": "rule", "strokeWidth": 3, "color": "black", "opacity": 1},
         "encoding": {"y": {"field": "v", "type": "quantitative", "scale": {"type": "log", "domain": [1e22, 1e27], "nice": false}, "axis": null}, "x": {"datum": 1, "type": "quantitative", "scale": {"type": "log", "domain": [1, 1000], "nice": false}, "axis": null}, "x2": {"datum": 1.057}}},
        {"data": {"name": "ymin"}, "mark": {"type": "rule", "strokeWidth": 3, "color": "black", "opacity": 1},
         "encoding": {"y": {"field": "v", "type": "quantitative", "scale": {"type": "log", "domain": [1e22, 1e27], "nice": false}, "axis": null}, "x": {"datum": 1000, "type": "quantitative", "scale": {"type": "log", "domain": [1, 1000], "nice": false}, "axis": null}, "x2": {"datum": 946}}}
      ]
    },
    {
      "width": 744, "height": 559,
      "resolve": {"scale": {"x": "independent", "y": "independent"}},
      "layer": [
        {
          "data": {"name": "dots"},
          "mark": {"type": "point", "shape": "square", "filled": true, "size": 5, "color": "black", "opacity": 1},
          "encoding": {
            "x": {"field": "s", "type": "quantitative", "scale": {"type": "log", "domain": [1, 1000], "nice": false},
                  "axis": {"orient": "bottom", "values": [1, 10, 100, 1000], "offset": -11, "tickSize": 11, "labelExpr": "'' + datum.value", "labelPadding": 9, "title": "Projected Radio Source Size (kpc)", "titlePadding": 22}},
            "y": {"field": "L", "type": "quantitative", "scale": {"type": "log", "domain": [1e22, 1e27], "nice": false},
                  "axis": {"orient": "left", "values": [1e22, 1e23, 1e24, 1e25, 1e26, 1e27], "offset": -11, "tickSize": 11, "labelAngle": -90, "labelAlign": "center", "labelBaseline": "bottom", "labelPadding": 10,
                           "labelExpr": "datum.value == 1e22 ? '10²²' : datum.value == 1e23 ? '10²³' : datum.value == 1e24 ? '10²⁴' : datum.value == 1e25 ? '10²⁵' : datum.value == 1e26 ? '10²⁶' : '10²⁷'",
                           "title": "IR luminosity at 250 μm (W Hz⁻¹)", "titlePadding": 10, "titleY": 250}}
          }
        },
        {
          "data": {"name": "marks"},
          "mark": {"type": "point", "filled": false, "strokeWidth": 1.4, "size": 225, "opacity": 1},
          "encoding": {
            "x": {"field": "s", "type": "quantitative", "scale": {"type": "log", "domain": [1, 1000], "nice": false}, "axis": null},
            "y": {"field": "L", "type": "quantitative", "scale": {"type": "log", "domain": [1e22, 1e27], "nice": false}, "axis": null},
            "color": {"field": "c", "type": "nominal",
                      "scale": {"domain": ["hi", "lo", "det", "sig", "ul", "arr"], "range": ["#0000ff", "#00ffff", "#00ff00", "#ff0000", "#000000", "#000000"]},
                      "legend": {"orient": "none", "legendX": 524, "legendY": 373, "title": null, "direction": "vertical", "strokeColor": "black", "fillColor": "white", "padding": 7, "cornerRadius": 0, "symbolSize": 256, "symbolStrokeWidth": 2, "symbolOpacity": 1, "labelFont": "DejaVu Sans", "labelFontSize": 13, "labelFontWeight": "bold", "labelColor": "black", "labelLimit": 300, "rowPadding": 8.5, "labelOffset": 6,
                                 "labelExpr": "({'hi': '> 1.5 L*ₖ', 'lo': '< 1.5 L*ₖ', 'det': ['Detected in 5σ H-ATLAS', 'catalogue'], 'sig': '> 2σ at 250μm', 'ul': '2σ upper-limit', 'arr': '1σ radio size limit'})[datum.value]"}},
            "shape": {"field": "m", "type": "nominal",
                      "scale": {"domain": ["hi", "lo", "det", "sig", "ul", "arr"], "range": ["M-1,0L1,0", "M-1,0L1,0", "M-0.9,0L0.9,0M0,-0.9L0,0.9", "M0,-0.8L0,0.8M-0.7,-0.4L0.7,0.4M-0.7,0.4L0.7,-0.4", "M-0.1,-0.1L0.1,-0.1L0.1,0.1L-0.1,0.1Z", "M1,0L-1,0M-1,0L-0.35,-0.55M-1,0L-0.35,0.55"]},
                      "legend": {"orient": "none", "legendX": 524, "legendY": 373, "title": null, "direction": "vertical", "strokeColor": "black", "fillColor": "white", "padding": 7, "cornerRadius": 0, "symbolSize": 256, "symbolStrokeWidth": 2, "symbolOpacity": 1, "labelFont": "DejaVu Sans", "labelFontSize": 13, "labelFontWeight": "bold", "labelColor": "black", "labelLimit": 300, "rowPadding": 8.5, "labelOffset": 6,
                                 "labelExpr": "({'hi': '> 1.5 L*ₖ', 'lo': '< 1.5 L*ₖ', 'det': ['Detected in 5σ H-ATLAS', 'catalogue'], 'sig': '> 2σ at 250μm', 'ul': '2σ upper-limit', 'arr': '1σ radio size limit'})[datum.value]"}}
          }
        },
        {
          "data": {"name": "bins"},
          "transform": [{"filter": "datum.p == 'bot'"}],
          "mark": {"type": "rule", "strokeWidth": 2.8},
          "encoding": {
            "x": {"field": "x1", "type": "quantitative", "scale": {"type": "log", "domain": [1, 1000], "nice": false}, "axis": null},
            "x2": {"field": "x2"},
            "y": {"field": "L", "type": "quantitative", "scale": {"type": "log", "domain": [1e22, 1e27], "nice": false}, "axis": null},
            "color": {"field": "c", "type": "nominal", "legend": null,
                      "scale": {"domain": ["hi", "lo", "det", "sig", "ul", "arr"], "range": ["#0000ff", "#00ffff", "#00ff00", "#ff0000", "#000000", "#000000"]}}
          }
        },
        {
          "data": {"name": "bins"},
          "transform": [{"filter": "datum.p == 'bot'"}],
          "mark": {"type": "rule", "strokeWidth": 2.8},
          "encoding": {
            "x": {"field": "mid", "type": "quantitative", "scale": {"type": "log", "domain": [1, 1000], "nice": false}, "axis": null},
            "y": {"field": "Llo", "type": "quantitative", "scale": {"type": "log", "domain": [1e22, 1e27], "nice": false}, "axis": null},
            "y2": {"field": "Lhi"},
            "color": {"field": "c", "type": "nominal", "legend": null,
                      "scale": {"domain": ["hi", "lo", "det", "sig", "ul", "arr"], "range": ["#0000ff", "#00ffff", "#00ff00", "#ff0000", "#000000", "#000000"]}}
          }
        },
        {"data": {"name": "xmaj"}, "mark": {"type": "rule", "strokeWidth": 3, "color": "black", "opacity": 1},
         "encoding": {"x": {"field": "v", "type": "quantitative", "scale": {"type": "log", "domain": [1, 1000], "nice": false}, "axis": null}, "y": {"datum": 1e22, "type": "quantitative", "scale": {"type": "log", "domain": [1e22, 1e27], "nice": false}, "axis": null}, "y2": {"datum": 1.254e22}}},
        {"data": {"name": "xmaj"}, "mark": {"type": "rule", "strokeWidth": 3, "color": "black", "opacity": 1},
         "encoding": {"x": {"field": "v", "type": "quantitative", "scale": {"type": "log", "domain": [1, 1000], "nice": false}, "axis": null}, "y": {"datum": 1e27, "type": "quantitative", "scale": {"type": "log", "domain": [1e22, 1e27], "nice": false}, "axis": null}, "y2": {"datum": 7.97e26}}},
        {"data": {"name": "xmin"}, "mark": {"type": "rule", "strokeWidth": 3, "color": "black", "opacity": 1},
         "encoding": {"x": {"field": "v", "type": "quantitative", "scale": {"type": "log", "domain": [1, 1000], "nice": false}, "axis": null}, "y": {"datum": 1e22, "type": "quantitative", "scale": {"type": "log", "domain": [1e22, 1e27], "nice": false}, "axis": null}, "y2": {"datum": 1.131e22}}},
        {"data": {"name": "xmin"}, "mark": {"type": "rule", "strokeWidth": 3, "color": "black", "opacity": 1},
         "encoding": {"x": {"field": "v", "type": "quantitative", "scale": {"type": "log", "domain": [1, 1000], "nice": false}, "axis": null}, "y": {"datum": 1e27, "type": "quantitative", "scale": {"type": "log", "domain": [1e22, 1e27], "nice": false}, "axis": null}, "y2": {"datum": 8.84e26}}},
        {"data": {"name": "ymaj"}, "mark": {"type": "rule", "strokeWidth": 3, "color": "black", "opacity": 1},
         "encoding": {"y": {"field": "v", "type": "quantitative", "scale": {"type": "log", "domain": [1e22, 1e27], "nice": false}, "axis": null}, "x": {"datum": 1, "type": "quantitative", "scale": {"type": "log", "domain": [1, 1000], "nice": false}, "axis": null}, "x2": {"datum": 1.107}}},
        {"data": {"name": "ymaj"}, "mark": {"type": "rule", "strokeWidth": 3, "color": "black", "opacity": 1},
         "encoding": {"y": {"field": "v", "type": "quantitative", "scale": {"type": "log", "domain": [1e22, 1e27], "nice": false}, "axis": null}, "x": {"datum": 1000, "type": "quantitative", "scale": {"type": "log", "domain": [1, 1000], "nice": false}, "axis": null}, "x2": {"datum": 903}}},
        {"data": {"name": "ymin"}, "mark": {"type": "rule", "strokeWidth": 3, "color": "black", "opacity": 1},
         "encoding": {"y": {"field": "v", "type": "quantitative", "scale": {"type": "log", "domain": [1e22, 1e27], "nice": false}, "axis": null}, "x": {"datum": 1, "type": "quantitative", "scale": {"type": "log", "domain": [1, 1000], "nice": false}, "axis": null}, "x2": {"datum": 1.057}}},
        {"data": {"name": "ymin"}, "mark": {"type": "rule", "strokeWidth": 3, "color": "black", "opacity": 1},
         "encoding": {"y": {"field": "v", "type": "quantitative", "scale": {"type": "log", "domain": [1e22, 1e27], "nice": false}, "axis": null}, "x": {"datum": 1000, "type": "quantitative", "scale": {"type": "log", "domain": [1, 1000], "nice": false}, "axis": null}, "x2": {"datum": 946}}}
      ]
    }
  ]
}
